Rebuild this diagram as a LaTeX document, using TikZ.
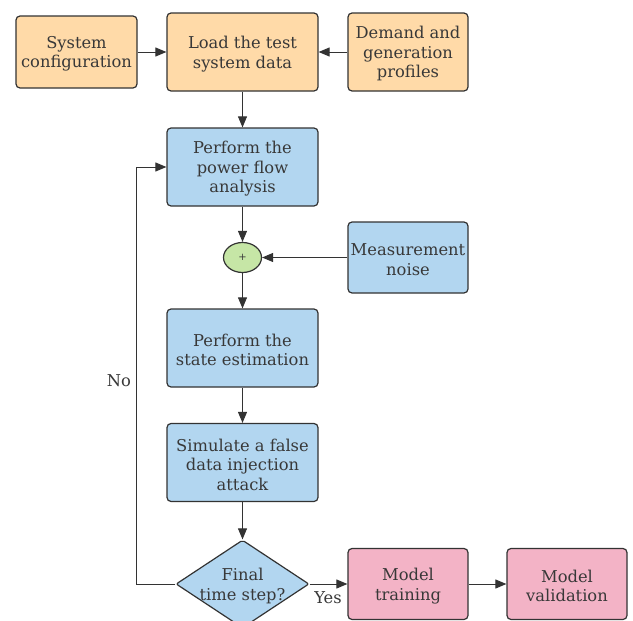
\documentclass[tikz,border=0pt]{standalone}
\usepackage{fontspec}
\setmainfont{DejaVu Serif}
\usetikzlibrary{arrows.meta,shapes.geometric}
\definecolor{peach}{HTML}{FFDAA8}
\definecolor{lblue}{HTML}{B2D6F0}
\definecolor{lgreen}{HTML}{C6E6A6}
\definecolor{lpink}{HTML}{F3B3C6}
\definecolor{bordc}{HTML}{333333}
\definecolor{textc}{HTML}{383838}
\definecolor{linec}{HTML}{333333}
\begin{document}
\begin{tikzpicture}[x=1pt,y=-1pt,
  box/.style={draw=bordc, line width=1.2pt, rounded corners=4pt, inner sep=0pt},
  txt/.style={text=textc, align=center, font=\fontsize{16.3}{19.5}\selectfont, inner sep=0pt, yshift=-2pt},
  arr/.style={-{Triangle[length=11pt,width=9pt]}, line width=1pt, draw=linec},
  lbl/.style={text=textc, font=\fontsize{16.3}{19.5}\selectfont, inner sep=0pt}]
\useasboundingbox (0,0) rectangle (633,621);
\node[box, fill=peach, minimum width=121pt, minimum height=72pt, label={[txt]center:{System\\configuration}}] (sc) at (76.5,52) {};
\node[box, fill=peach, minimum width=151pt, minimum height=78pt, label={[txt]center:{Load the test\\system data}}] (load) at (242.5,52) {};
\node[box, fill=peach, minimum width=120pt, minimum height=78pt, label={[txt]center:{Demand and\\generation\\profiles}}] (dem) at (408,52) {};
\node[box, fill=lblue, minimum width=151pt, minimum height=78pt, label={[txt]center:{Perform the\\power flow\\analysis}}] (pf) at (242.5,167) {};
\node[draw=bordc, line width=1.2pt, fill=lgreen, ellipse, minimum width=38pt, minimum height=30pt, inner sep=0pt, text=textc, font=\fontsize{10}{12}\selectfont] (plus) at (242.5,257.5) {+};
\node[box, fill=lblue, minimum width=120pt, minimum height=71pt, label={[txt]center:{Measurement\\noise}}] (noise) at (408,257.5) {};
\node[box, fill=lblue, minimum width=151pt, minimum height=78pt, label={[txt]center:{Perform the\\state estimation}}] (se) at (242.5,348) {};
\node[box, fill=lblue, minimum width=151pt, minimum height=78pt, label={[txt]center:{Simulate a false\\data injection\\attack}}] (fdi) at (242.5,462.5) {};
\node[box, rounded corners=2pt, fill=lblue, diamond, aspect=1.51, minimum width=133pt, minimum height=88pt, label={[txt]center:{Final\\time step?}}] (dia) at (242.5,584) {};
\node[box, fill=lpink, minimum width=120pt, minimum height=71pt, label={[txt]center:{Model\\training}}] (train) at (408,584) {};
\node[box, fill=lpink, minimum width=120pt, minimum height=71pt, label={[txt]center:{Model\\validation}}] (val) at (567,584) {};
\coordinate (lp) at (136,584);
\draw[arr] (sc) -- (load);
\draw[arr] (dem.west) -- (load.east |- dem.west);
\draw[arr] (load) -- (pf);
\draw[arr] (pf) -- (plus);
\draw[arr] (noise) -- (plus);
\draw[arr] (plus) -- (se);
\draw[arr] (se) -- (fdi);
\draw[arr] (fdi) -- (dia);
\draw[arr] (dia) -- (train);
\draw[arr] (train) -- (val);
\draw[arr] (dia.west) -- (lp) |- (pf.west);
\node[lbl] (no) at (119,381) {No};
\node[lbl] (yes) at (328,598) {Yes};
\end{tikzpicture}
\end{document}
